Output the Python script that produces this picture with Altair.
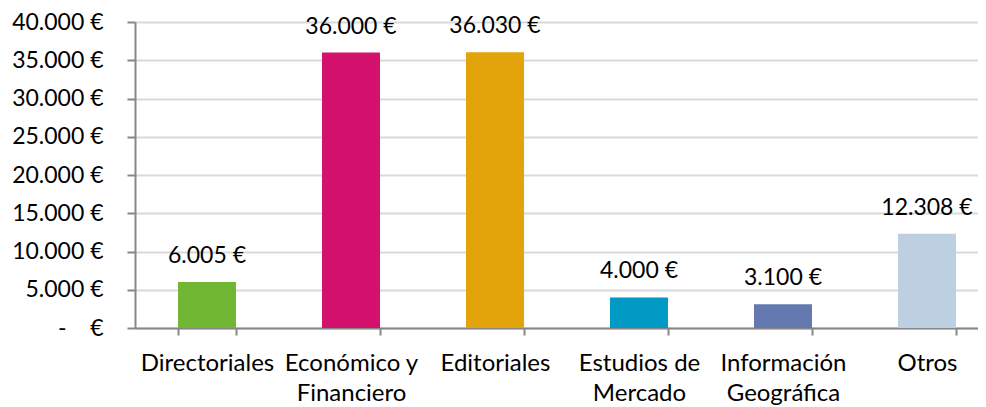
import altair as alt
import pandas as pd

categories = ["Directoriales", "Económico y Financiero", "Editoriales",
              "Estudios de Mercado", "Información Geográfica", "Otros"]
values = [6005, 36000, 36030, 4000, 3100, 12308]
colors = ["#72B733", "#D4116C", "#E2A30B", "#009AC5", "#6579B1", "#BDD0E2"]
y_ticks = [0, 5000, 10000, 15000, 20000, 25000, 30000, 35000, 40000]

df = pd.DataFrame({"categoria": categories, "importe": values, "color": colors})

FONT = "Lato"
FS_CAT = 24
FS_NUM = 23
GRAY = "#878787"
NB = "\u00a0"

x_label_expr = (
    "lastindexof(datum.label, ' ') > 0 ? "
    "[substring(datum.label, 0, lastindexof(datum.label, ' ')), "
    "substring(datum.label, lastindexof(datum.label, ' ') + 1)] : datum.label"
)
y_label_expr = (
    "datum.value == 0 ? '-" + NB * 4 + "€' : "
    "replace(format(datum.value, ','), ',', '.') + ' €'"
)

x = alt.X(
    "categoria:N",
    sort=categories,
    scale=alt.Scale(range=[0, 864], paddingInner=0.597, paddingOuter=0.2986),
    axis=alt.Axis(
        title=None, labelAngle=0, tickBand="extent", labelExpr=x_label_expr,
        labelFont=FONT, labelFontSize=FS_CAT, labelColor="#000000",
        labelPadding=16, labelLineHeight=30, labelOverlap=False, labelBound=False,
        labelLimit=0, domainColor=GRAY, domainWidth=2, tickColor=GRAY,
        tickWidth=2, tickSize=7, grid=False,
    ),
)
y = alt.Y(
    "importe:Q",
    scale=alt.Scale(domain=[0, 40000], nice=False),
    axis=alt.Axis(
        title=None, values=y_ticks, labelExpr=y_label_expr,
        labelFont=FONT, labelFontSize=FS_NUM, labelColor="#000000",
        labelPadding=24, domainColor=GRAY, domainWidth=2, tickColor=GRAY,
        tickWidth=2, tickSize=8, grid=True, gridColor="#D9D9D9", gridWidth=2,
    ),
)

base = alt.Chart(df)
bars = base.mark_bar().encode(x=x, y=y, color=alt.Color("color:N", scale=None))
labels = base.transform_calculate(
    etiqueta="replace(format(datum.importe, ','), ',', '.') + ' €'"
).mark_text(
    dy=-19, baseline="alphabetic", font=FONT, fontSize=FS_NUM, color="#000000"
).encode(x=x, y=y, text="etiqueta:N")

chart = (
    alt.layer(bars, labels)
    .properties(
        width=843, height=306,
        autosize=alt.AutoSizeParams(type="none"),
        padding={"left": 127, "top": 14, "right": 0, "bottom": 79},
        background="white",
    )
    .configure_view(stroke=None)
)

chart.save("out.html", embed_options={"renderer": "svg", "actions": False})
